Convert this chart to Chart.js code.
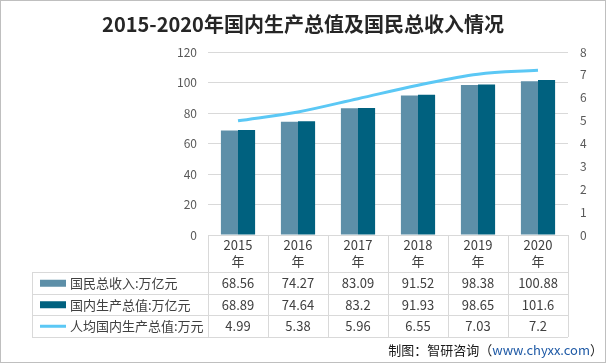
<!DOCTYPE html>
<html>
<head>
<meta charset="utf-8">
<script src="https://cdn.jsdelivr.net/npm/chart.js@4.4.1/dist/chart.umd.min.js"></script>
<style>
  html, body { margin: 0; padding: 0; background: #fff; }
  #box { width: 606px; height: 363px; position: relative; }
</style>
</head>
<body>
<div id="box"><canvas id="gdpChart" width="606" height="363"></canvas></div>
<script>
// data
const years = ['2015', '2016', '2017', '2018', '2019', '2020'];
const gniValues = [68.56, 74.27, 83.09, 91.52, 98.38, 100.88];
const gdpValues = [68.89, 74.64, 83.2, 91.93, 98.65, 101.6];
const perCapitaValues = [4.99, 5.38, 5.96, 6.55, 7.03, 7.2];
const seriesNames = ['国民总收入:万亿元', '国内生产总值:万亿元', '人均国内生产总值:万元'];
const leftTicks = [0, 20, 40, 60, 80, 100, 120];
const rightTicks = [0, 1, 2, 3, 4, 5, 6, 7, 8];

const CN_FONT = '"Noto Sans CJK SC", "Noto Sans", sans-serif';
const colors = ['#5D8FA8', '#00617F', '#5BC8F5'];
const gridColor = '#D9D9D9';

// data table under the plot, plus title, footer and frame
const tablePlugin = {
    id: 'dataTable',
    afterDraw(chart) {
        const ctx = chart.ctx;
        const area = chart.chartArea;
        const xs = chart.scales.x;
        const colW = (area.right - area.left) / years.length;
        const top = area.bottom;
        const rowTops = [top + 37, top + 58.5, top + 80, top + 101.5];
        const labelLeft = 32;
        const rows = [gniValues, gdpValues, perCapitaValues];

        ctx.save();
        ctx.strokeStyle = gridColor;
        ctx.lineWidth = 1;
        ctx.beginPath();
        // horizontal lines
        ctx.moveTo(area.left, top + 0.5);
        ctx.lineTo(area.right, top + 0.5);
        rowTops.forEach(y => {
            ctx.moveTo(labelLeft, Math.round(y) + 0.5);
            ctx.lineTo(area.right, Math.round(y) + 0.5);
        });
        // vertical lines
        for (let i = 0; i <= years.length; i++) {
            const x = Math.round(area.left + i * colW) + 0.5;
            ctx.moveTo(x, top);
            ctx.lineTo(x, Math.round(rowTops[3]));
        }
        ctx.moveTo(labelLeft + 0.5, Math.round(rowTops[0]));
        ctx.lineTo(labelLeft + 0.5, Math.round(rowTops[3]));
        ctx.stroke();

        ctx.fillStyle = '#404040';
        ctx.font = '13px ' + CN_FONT;
        ctx.textAlign = 'center';
        ctx.textBaseline = 'middle';
        years.forEach((y, i) => {
            const cx = xs.getPixelForValue(i);
            ctx.fillText(y, cx, top + 10.5);
            ctx.fillText('年', cx, top + 26.5);
        });

        rows.forEach((vals, r) => {
            const cy = (rowTops[r] + rowTops[r + 1]) / 2 + 0.5;
            vals.forEach((v, i) => {
                ctx.fillStyle = '#404040';
                ctx.fillText(String(v), xs.getPixelForValue(i), cy);
            });
            // legend key
            ctx.fillStyle = colors[r];
            if (r < 2) {
                ctx.fillRect(40, cy - 3.5, 26, 7);
            } else {
                ctx.fillRect(40, cy - 1.5, 26, 3);
            }
            ctx.fillStyle = '#404040';
            ctx.textAlign = 'left';
            ctx.fillText(seriesNames[r], 70, cy);
            ctx.textAlign = 'center';
        });

        // title
        ctx.fillStyle = '#262626';
        ctx.font = 'bold 20px ' + CN_FONT;
        ctx.fillText('2015-2020年国内生产总值及国民总收入情况', 303, 24);

        // footer
        ctx.font = '13px ' + CN_FONT;
        ctx.textAlign = 'left';
        const p1 = '制图：智研咨询（', p2 = 'www.chyxx.com', p3 = '）';
        const w1 = ctx.measureText(p1).width;
        const w2 = ctx.measureText(p2).width;
        const w3 = ctx.measureText(p3).width;
        let x0 = 603 - (w1 + w2 + w3);
        ctx.fillStyle = '#1a1a1a';
        ctx.fillText(p1, x0, 350);
        ctx.fillStyle = '#1F5AA6';
        ctx.fillText(p2, x0 + w1, 350);
        ctx.fillStyle = '#1a1a1a';
        ctx.fillText(p3, x0 + w1 + w2, 350);

        // frame
        ctx.strokeStyle = '#BFBFBF';
        ctx.strokeRect(0.5, 0.5, 605, 362);
        ctx.restore();
    }
};

new Chart(document.getElementById('gdpChart').getContext('2d'), {
    type: 'bar',
    data: {
        labels: years,
        datasets: [
            {
                type: 'line',
                label: seriesNames[2],
                data: perCapitaValues,
                yAxisID: 'y2',
                borderColor: colors[2],
                borderWidth: 3,
                pointRadius: 0,
                tension: 0.35,
                order: 0
            },
            {
                label: seriesNames[0],
                data: gniValues,
                backgroundColor: colors[0],
                yAxisID: 'y',
                categoryPercentage: 0.57,
                barPercentage: 1,
                order: 1
            },
            {
                label: seriesNames[1],
                data: gdpValues,
                backgroundColor: colors[1],
                yAxisID: 'y',
                categoryPercentage: 0.57,
                barPercentage: 1,
                order: 1
            }
        ]
    },
    options: {
        responsive: false,
        animation: false,
        layout: { padding: { top: 52, bottom: 128, left: 0, right: 0 } },
        plugins: {
            legend: { display: false },
            tooltip: { enabled: false },
            title: { display: false }
        },
        scales: {
            x: { display: false },
            y: {
                position: 'left',
                min: 0,
                max: 120,
                afterBuildTicks: s => { s.ticks = leftTicks.map(v => ({ value: v })); },
                grid: { color: gridColor, drawTicks: false },
                border: { display: false },
                ticks: { padding: 11, color: '#595959', font: { size: 12, family: CN_FONT } },
                afterFit: s => { s.width = 208; }
            },
            y2: {
                position: 'right',
                min: 0,
                max: 8,
                afterBuildTicks: s => { s.ticks = rightTicks.map(v => ({ value: v })); },
                grid: { display: false, drawTicks: false },
                border: { display: false },
                ticks: { padding: 12, color: '#595959', font: { size: 12, family: CN_FONT } },
                afterFit: s => { s.width = 38; }
            }
        }
    },
    plugins: [tablePlugin]
});
</script>
</body>
</html>
